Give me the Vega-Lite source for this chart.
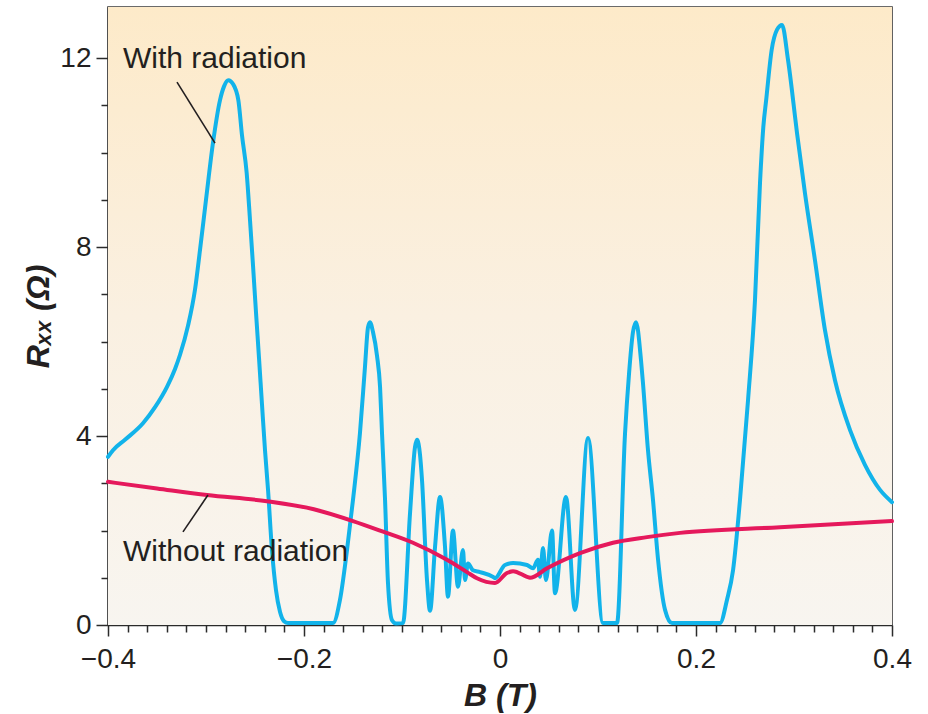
{
  "$schema": "https://vega.github.io/schema/vega-lite/v6.json",
  "autosize": "none",
  "width": 784,
  "height": 618,
  "padding": {"left": 108, "top": 7, "right": 36, "bottom": 89},
  "background": "white",
  "config": {
    "font": "Liberation Sans",
    "view": {"stroke": "#3a3a3a", "strokeWidth": 1.6},
    "axis": {
      "domainColor": "#2b2b2b",
      "domainWidth": 1.6,
      "tickColor": "#2b2b2b",
      "tickWidth": 1.5,
      "grid": false,
      "labelFont": "Liberation Sans",
      "labelFontSize": 28,
      "labelColor": "#231F20",
      "labelOverlap": false,
      "labelFlush": false,
      "titleFont": "Liberation Sans",
      "titleFontSize": 32,
      "titleFontWeight": "bold",
      "titleColor": "#231F20"
    }
  },
  "datasets": {
    "withRadiation": [
      {"B": -0.400, "R": 3.56}, {"B": -0.3949, "R": 3.70}, {"B": -0.3827, "R": 3.92},
      {"B": -0.3643, "R": 4.27}, {"B": -0.352, "R": 4.61}, {"B": -0.3398, "R": 5.04},
      {"B": -0.3316, "R": 5.42}, {"B": -0.3265, "R": 5.72}, {"B": -0.3184, "R": 6.33},
      {"B": -0.3112, "R": 7.1}, {"B": -0.3061, "R": 7.94}, {"B": -0.3, "R": 9.0},
      {"B": -0.2929, "R": 10.2}, {"B": -0.2857, "R": 11.11}, {"B": -0.2816, "R": 11.4},
      {"B": -0.2772, "R": 11.53}, {"B": -0.2724, "R": 11.45}, {"B": -0.267, "R": 11.11},
      {"B": -0.2633, "R": 10.37}, {"B": -0.2585, "R": 9.57}, {"B": -0.2551, "R": 8.57},
      {"B": -0.252, "R": 7.6}, {"B": -0.249, "R": 6.62}, {"B": -0.2459, "R": 5.65},
      {"B": -0.2429, "R": 4.68}, {"B": -0.2398, "R": 3.7}, {"B": -0.2367, "R": 2.86},
      {"B": -0.2327, "R": 1.59}, {"B": -0.2286, "R": 0.74}, {"B": -0.2245, "R": 0.28},
      {"B": -0.2204, "R": 0.08}, {"B": -0.2163, "R": 0.04}, {"B": -0.1704, "R": 0.04},
      {"B": -0.1633, "R": 0.53}, {"B": -0.1561, "R": 1.59}, {"B": -0.15, "R": 2.65},
      {"B": -0.1429, "R": 4.06}, {"B": -0.1378, "R": 5.46}, {"B": -0.1347, "R": 6.3},
      {"B": -0.1327, "R": 6.41}, {"B": -0.1296, "R": 6.2}, {"B": -0.1255, "R": 5.7},
      {"B": -0.1224, "R": 5.04}, {"B": -0.1204, "R": 4.06}, {"B": -0.1173, "R": 2.65},
      {"B": -0.1143, "R": 0.89}, {"B": -0.1102, "R": 0.1}, {"B": -0.1061, "R": 0.03},
      {"B": -0.099, "R": 0.04}, {"B": -0.0918, "R": 2.37}, {"B": -0.0867, "R": 3.77},
      {"B": -0.0847, "R": 3.92}, {"B": -0.0816, "R": 3.6}, {"B": -0.0796, "R": 3.07},
      {"B": -0.0745, "R": 0.95}, {"B": -0.0714, "R": 0.3}, {"B": -0.0663, "R": 1.65},
      {"B": -0.0612, "R": 2.71}, {"B": -0.0561, "R": 1.65}, {"B": -0.0531, "R": 0.6},
      {"B": -0.048, "R": 2.0}, {"B": -0.0429, "R": 0.81}, {"B": -0.0378, "R": 1.59},
      {"B": -0.0357, "R": 0.95}, {"B": -0.0327, "R": 1.3}, {"B": -0.0276, "R": 1.16},
      {"B": -0.0204, "R": 1.12}, {"B": -0.0071, "R": 1.02}, {"B": -0.0051, "R": 0.99},
      {"B": 0.0051, "R": 1.27}, {"B": 0.0133, "R": 1.31}, {"B": 0.0276, "R": 1.27},
      {"B": 0.0337, "R": 1.2}, {"B": 0.0388, "R": 1.38}, {"B": 0.0408, "R": 1.02},
      {"B": 0.0439, "R": 1.63}, {"B": 0.0469, "R": 0.95}, {"B": 0.0531, "R": 2.0},
      {"B": 0.0561, "R": 0.67}, {"B": 0.0673, "R": 2.71}, {"B": 0.0765, "R": 0.32},
      {"B": 0.0898, "R": 3.96}, {"B": 0.1051, "R": 0.04}, {"B": 0.1194, "R": 0.04},
      {"B": 0.1276, "R": 4.06}, {"B": 0.1316, "R": 5.3}, {"B": 0.1357, "R": 6.2},
      {"B": 0.1388, "R": 6.41}, {"B": 0.1439, "R": 5.6}, {"B": 0.1459, "R": 5.12},
      {"B": 0.151, "R": 3.7}, {"B": 0.1561, "R": 2.65}, {"B": 0.1612, "R": 1.4},
      {"B": 0.1684, "R": 0.32}, {"B": 0.1755, "R": 0.04}, {"B": 0.2245, "R": 0.04},
      {"B": 0.2316, "R": 0.53}, {"B": 0.2378, "R": 1.16}, {"B": 0.2449, "R": 2.65},
      {"B": 0.2531, "R": 4.76}, {"B": 0.2602, "R": 6.88}, {"B": 0.2653, "R": 9.35},
      {"B": 0.2687, "R": 10.54}, {"B": 0.2716, "R": 11.11}, {"B": 0.2772, "R": 12.17},
      {"B": 0.2827, "R": 12.6}, {"B": 0.2878, "R": 12.7}, {"B": 0.2939, "R": 11.96},
      {"B": 0.3031, "R": 10.41}, {"B": 0.3112, "R": 9.14}, {"B": 0.3214, "R": 7.72},
      {"B": 0.3316, "R": 6.24}, {"B": 0.3418, "R": 5.18}, {"B": 0.3571, "R": 4.13},
      {"B": 0.3724, "R": 3.39}, {"B": 0.3878, "R": 2.86}, {"B": 0.4, "R": 2.6}
    ],
    "withoutRadiation": [
      {"B": -0.4, "R": 3.03}, {"B": -0.35, "R": 2.89}, {"B": -0.299, "R": 2.75},
      {"B": -0.2378, "R": 2.62}, {"B": -0.19, "R": 2.45}, {"B": -0.15, "R": 2.2},
      {"B": -0.12, "R": 1.98}, {"B": -0.0888, "R": 1.74}, {"B": -0.0541, "R": 1.38},
      {"B": -0.0337, "R": 1.12}, {"B": -0.0235, "R": 0.99}, {"B": -0.0051, "R": 0.89},
      {"B": 0.0071, "R": 1.1}, {"B": 0.0133, "R": 1.14}, {"B": 0.0276, "R": 1.02},
      {"B": 0.0306, "R": 1.0}, {"B": 0.048, "R": 1.2}, {"B": 0.0816, "R": 1.52},
      {"B": 0.1153, "R": 1.74}, {"B": 0.15, "R": 1.86}, {"B": 0.1837, "R": 1.95},
      {"B": 0.2857, "R": 2.07}, {"B": 0.4, "R": 2.2}
    ],
    "notes": [
      {"B": -0.3847, "R": 11.79, "text": "With radiation"},
      {"B": -0.3847, "R": 1.35, "text": "Without radiation"}
    ],
    "leaders": [
      {"B": -0.3296, "R": 11.49, "B2": -0.2908, "R2": 10.2},
      {"B": -0.3235, "R": 1.97, "B2": -0.298, "R2": 2.75}
    ]
  },
  "layer": [
    {
      "data": {"values": [{}]},
      "mark": {
        "type": "rect",
        "fill": {
          "gradient": "linear",
          "x1": 0, "y1": 0, "x2": 0, "y2": 1,
          "stops": [
            {"offset": 0, "color": "#FDEAC9"},
            {"offset": 0.5, "color": "#FAF0E1"},
            {"offset": 1, "color": "#F8F5F0"}
          ]
        }
      },
      "encoding": {
        "x": {"datum": -0.4, "type": "quantitative"},
        "x2": {"datum": 0.4},
        "y": {"datum": 0, "type": "quantitative"},
        "y2": {"datum": 13.08}
      }
    },
    {
      "data": {"name": "withRadiation"},
      "mark": {"type": "line", "color": "#12B3EA", "strokeWidth": 4, "interpolate": "monotone", "strokeJoin": "round", "strokeCap": "round"},
      "encoding": {
        "x": {
          "field": "B",
          "type": "quantitative",
          "scale": {"domain": [-0.4, 0.4], "nice": false, "zero": false},
          "axis": {
            "title": "B (T)",
            "titleFontStyle": "italic",
            "titlePadding": 7,
            "tickCount": 100,
            "values": [-0.4, -0.38, -0.36, -0.34, -0.32, -0.3, -0.28, -0.26, -0.24, -0.22, -0.2, -0.18, -0.16, -0.14, -0.12, -0.1, -0.08, -0.06, -0.04, -0.02, 0, 0.02, 0.04, 0.06, 0.08, 0.1, 0.12, 0.14, 0.16, 0.18, 0.2, 0.22, 0.24, 0.26, 0.28, 0.3, 0.32, 0.34, 0.36, 0.38, 0.4],
            "labelExpr": "abs(datum.value * 5 - round(datum.value * 5)) < 1e-6 ? (abs(datum.value) < 1e-9 ? '0' : format(datum.value, '.1f')) : ''",
            "tickSize": {"condition": {"test": "abs(datum.value * 5 - round(datum.value * 5)) < 1e-6", "value": 11}, "value": 7},
            "labelPadding": 9
          }
        },
        "y": {
          "field": "R",
          "type": "quantitative",
          "scale": {"domain": [0, 13.08], "nice": false},
          "axis": {
            "title": "Rₓₓ (Ω)",
            "titleFontStyle": "italic",
            "titlePadding": 4,
            "tickCount": 100,
            "values": [0, 1, 2, 3, 4, 5, 6, 7, 8, 9, 10, 11, 12],
            "labelExpr": "datum.value % 4 == 0 ? format(datum.value, 'd') : ''",
            "tickSize": {"condition": {"test": "datum.value % 4 == 0", "value": 12}, "value": 7},
            "labelPadding": 5
          }
        }
      }
    },
    {
      "data": {"name": "withoutRadiation"},
      "mark": {"type": "line", "color": "#E5195C", "strokeWidth": 4, "interpolate": "monotone", "strokeJoin": "round", "strokeCap": "round"},
      "encoding": {
        "x": {"field": "B", "type": "quantitative"},
        "y": {"field": "R", "type": "quantitative"}
      }
    },
    {
      "data": {"name": "leaders"},
      "mark": {"type": "rule", "color": "#231F20", "strokeWidth": 1.6},
      "encoding": {
        "x": {"field": "B", "type": "quantitative"},
        "y": {"field": "R", "type": "quantitative"},
        "x2": {"field": "B2"},
        "y2": {"field": "R2"}
      }
    },
    {
      "data": {"name": "notes"},
      "mark": {"type": "text", "align": "left", "baseline": "alphabetic", "fontSize": 30, "color": "#231F20", "font": "Liberation Sans"},
      "encoding": {
        "x": {"field": "B", "type": "quantitative"},
        "y": {"field": "R", "type": "quantitative"},
        "text": {"field": "text"}
      }
    }
  ]
}
